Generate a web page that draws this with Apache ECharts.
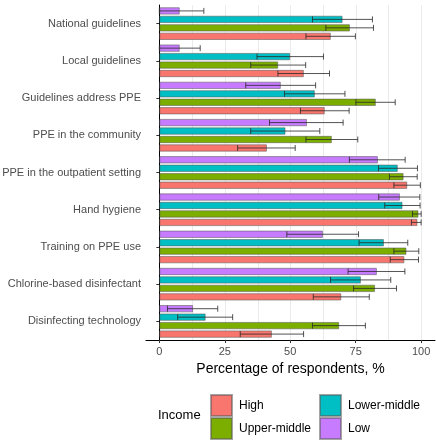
<!DOCTYPE html>
<html><head><meta charset="utf-8">
<script src="https://cdn.jsdelivr.net/npm/echarts@6/dist/echarts.min.js"></script>
<style>html,body{margin:0;padding:0;background:#fff}#c{width:436px;height:440px}</style>
</head><body><div id="c"></div>
<script>
const categories = ['National guidelines','Local guidelines','Guidelines address PPE','PPE in the community','PPE in the outpatient setting','Hand hygiene','Training on PPE use','Chlorine-based disinfectant','Disinfecting technology'];
const xTicks = [0, 25, 50, 75, 100];
const xGrid = [0, 12.5, 25, 37.5, 50, 62.5, 75, 87.5, 100];

const lowValues = [7.8, 7.8, 46.4, 56.4, 83.5, 91.9, 62.5, 83.1, 12.9];
const lowLower  = [0, 0, 33.0, 42.1, 72.6, 83.8, 48.7, 72.1, 3.1];
const lowUpper  = [17.0, 15.6, 59.7, 70.2, 93.9, 99.5, 76.1, 93.8, 22.3];

const lowerMiddleValues = [70.0, 50.0, 59.4, 48.2, 91.1, 92.9, 85.8, 77.0, 17.7];
const lowerMiddleLower  = [58.5, 37.3, 47.8, 34.9, 83.7, 86.1, 76.3, 65.4, 7.0];
const lowerMiddleUpper  = [81.4, 62.7, 70.9, 61.3, 98.6, 99.6, 94.9, 88.4, 28.0];

const upperMiddleValues = [72.8, 45.4, 82.7, 65.9, 93.3, 99.0, 94.4, 82.4, 68.7];
const upperMiddleLower  = [63.6, 34.9, 75.1, 56.0, 87.9, 96.7, 89.6, 74.2, 58.5];
const upperMiddleUpper  = [81.8, 55.9, 90.1, 75.8, 98.5, 100, 99.1, 90.6, 78.7];

const highValues = [65.5, 55.2, 63.2, 41.1, 94.7, 98.6, 93.6, 69.5, 43.0];
const highLower  = [56.0, 45.3, 53.9, 29.9, 89.6, 96.3, 88.2, 58.8, 30.9];
const highUpper  = [74.9, 65.0, 72.5, 51.9, 99.7, 100, 99.0, 80.2, 55.1];

const groups = [
  {name:'Low', color:'#C77CFF', v:lowValues, lo:lowLower, hi:lowUpper},
  {name:'Lower-middle', color:'#00BFC4', v:lowerMiddleValues, lo:lowerMiddleLower, hi:lowerMiddleUpper},
  {name:'Upper-middle', color:'#7CAE00', v:upperMiddleValues, lo:upperMiddleLower, hi:upperMiddleUpper},
  {name:'High', color:'#F8766D', v:highValues, lo:highLower, hi:highUpper}
];

const catGap = 0.12, barGap = 0.15;
const FONT = 'Liberation Sans, Arial, sans-serif';

const series = [];
// background vertical gridlines (major + minor)
series.push({
  type:'custom', name:'grid', z:0, silent:true,
  data: xGrid.map(v => [v]),
  encode:{x:0},
  renderItem(params, api){
    const cs = params.coordSys;
    const x = Math.round(api.coord([api.value(0), 0])[0]) + 0.5;
    return {type:'line', shape:{x1:x, y1:cs.y, x2:x, y2:cs.y+cs.height},
      style:{stroke:'#EBEBEB', lineWidth:1}};
  }
});
groups.forEach((g, j) => {
  series.push({
    type:'bar', name:g.name, data:g.v, z:2,
    barCategoryGap:(catGap*100)+'%', barGap:(barGap*100)+'%',
    itemStyle:{color:g.color, borderColor:'rgba(90,90,90,0.55)', borderWidth:1},
    emphasis:{disabled:true}
  });
});
groups.forEach((g, j) => {
  series.push({
    type:'custom', name:g.name+' CI', z:3, silent:true,
    data: categories.map((c,i)=>[i, g.lo[i], g.hi[i]]),
    encode:{x:[1,2], y:0},
    renderItem(params, api){
      const ci = api.value(0);
      const a = api.coord([api.value(1), ci]);
      const b = api.coord([api.value(2), ci]);
      const band = api.size([0,1])[1];
      const w = band*(1-catGap)/(4 + 3*barGap);
      const y = a[1] + (j-1.5)*w*(1+barGap);
      const h = 3;
      const style = {stroke:'rgba(40,40,40,0.8)', lineWidth:1, fill:null};
      return {type:'group', children:[
        {type:'line', shape:{x1:a[0],y1:y,x2:b[0],y2:y}, style},
        {type:'line', shape:{x1:a[0],y1:y-h,x2:a[0],y2:y+h}, style},
        {type:'line', shape:{x1:b[0],y1:y-h,x2:b[0],y2:y+h}, style}
      ]};
    }
  });
});

const chart = echarts.init(document.getElementById('c'), null, {renderer:'canvas'});
chart.setOption({
  animation:false,
  textStyle:{fontFamily:FONT},
  grid:{left:146, right:1, top:5, bottom:100, containLabel:false, outerBoundsMode:'none'},
  title:{text:'Income', left:158, top:409, padding:0,
    textStyle:{fontSize:13, fontWeight:'normal', color:'#000', fontFamily:FONT}},
  legend:[
    {data:['High','Upper-middle'], orient:'vertical', left:210, top:394, padding:0,
     itemWidth:21, itemHeight:21, itemGap:0, icon:'rect', selectedMode:false,
     textStyle:{fontSize:12, color:'#000', fontFamily:FONT, padding:[0,0,0,2]}},
    {data:['Lower-middle','Low'], orient:'vertical', left:319, top:394, padding:0,
     itemWidth:21, itemHeight:21, itemGap:0, icon:'rect', selectedMode:false,
     textStyle:{fontSize:12, color:'#000', fontFamily:FONT, padding:[0,0,0,2]}}
  ],
  xAxis:{type:'value', min:-5.1, max:105.3, position:'bottom',
     name:'Percentage of respondents, %', nameLocation:'middle', nameGap:21,
     nameTextStyle:{fontSize:14, color:'#000', fontFamily:FONT},
     axisLine:{show:true, lineStyle:{color:'#000', width:1}},
     axisTick:{show:true, length:3, lineStyle:{color:'#333'}, customValues:xTicks},
     axisLabel:{fontSize:11, color:'#4D4D4D', margin:6, customValues:xTicks, fontFamily:FONT},
     splitLine:{show:false}},
  yAxis:{type:'category', data:categories, inverse:true,
    axisLine:{show:true, lineStyle:{color:'#000', width:1}},
    axisTick:{show:true, alignWithLabel:true, length:3, lineStyle:{color:'#333'}},
    axisLabel:{fontSize:11, color:'#4D4D4D', margin:5, fontFamily:FONT},
    splitLine:{show:false}},
  series
});
</script></body></html>
